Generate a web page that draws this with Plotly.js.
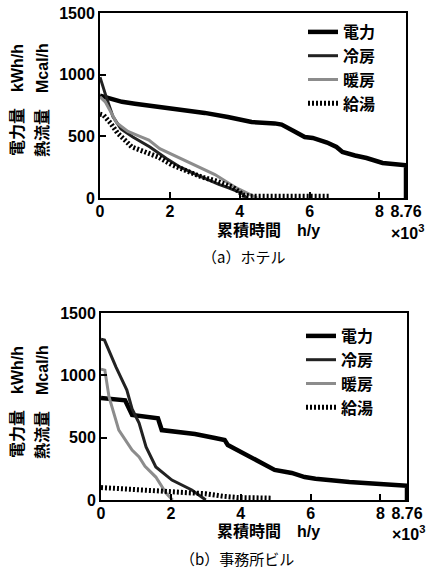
<!DOCTYPE html>
<html>
<head>
<meta charset="utf-8">
<script src="https://cdn.plot.ly/plotly-3.0.1.min.js"></script>
<style>html,body{margin:0;padding:0;background:#fff;}#chart{width:429px;height:579px;}</style>
</head>
<body>
<div id="chart"></div>
<script>
// ---- (a) ホテル : cumulative hours (×10^3 h/y) vs load ----
const seriesNames = ['電力', '冷房', '暖房', '給湯'];

const hotelPowerX = [0, 0.3, 0.63, 1.0, 1.77, 2.3, 3.0, 3.66, 4.34, 5.0, 5.2, 5.57, 5.86, 6.09, 6.5, 6.77, 6.94, 7.3, 7.63, 8.09, 8.5, 8.76, 8.76];
const hotelPowerY = [830, 810, 780, 765, 738, 715, 690, 657, 616, 605, 595, 540, 495, 487, 450, 414, 373, 345, 324, 284, 272, 265, 0];

const hotelCoolX = [0, 0.05, 0.2, 0.37, 0.6, 0.94, 1.2, 1.43, 1.9, 2.3, 2.71, 3.05, 3.4, 3.66, 4.06, 4.2];
const hotelCoolY = [980, 930, 800, 660, 560, 495, 450, 414, 320, 250, 195, 150, 110, 85, 40, 0];

const hotelHeatX = [0, 0.15, 0.48, 0.8, 1.14, 1.4, 1.71, 2.38, 2.71, 3.29, 3.86, 4.14, 4.5];
const hotelHeatY = [820, 780, 608, 540, 500, 470, 400, 310, 270, 190, 89, 49, 0];

const hotelHotX = [0, 0.1, 0.3, 0.5, 0.71, 0.91, 1.29, 1.66, 2.06, 2.51, 2.91, 3.3, 3.8, 4.1, 4.3, 6.6];
const hotelHotY = [680, 673, 608, 527, 470, 414, 373, 333, 268, 211, 170, 140, 89, 24, 15, 15];

// ---- (b) 事務所ビル ----
const officePowerX = [0, 0.69, 0.89, 1.63, 1.74, 2.69, 3.26, 3.54, 3.63, 4.03, 4.31, 4.6, 4.97, 5.46, 5.83, 6.14, 7.11, 8.06, 8.76, 8.76];
const officePowerY = [818, 800, 682, 655, 561, 530, 497, 481, 441, 385, 337, 297, 241, 217, 184, 170, 144, 132, 115, 0];

const officeCoolX = [0, 0.1, 0.43, 0.74, 0.89, 1.09, 1.29, 1.57, 2.03, 2.6, 3.0];
const officeCoolY = [1290, 1283, 1066, 882, 730, 617, 425, 265, 160, 80, 0];

const officeHeatX = [0, 0.11, 0.23, 0.51, 0.89, 1.09, 1.26, 1.57, 1.86, 2.05];
const officeHeatY = [1050, 1042, 826, 561, 401, 345, 270, 184, 56, 0];

const officeHotX = [0, 1, 2, 2.7, 3.0, 3.5, 3.9, 4.86];
const officeHotY = [100, 85, 70, 64, 50, 30, 20, 15];

// ---- axis ticks ----
const xTickVals = [0, 2, 4, 6, 8, 8.76];
const xTickText = ['0', '2', '4', '6', '8', '8.76'];
const yTickVals = [0, 500, 1000, 1500];
const yTickText = ['0', '500', '1000', '1500'];

const styles = [
  {color: '#000', width: 4.5},
  {color: '#222', width: 3},
  {color: '#8c8c8c', width: 3},
  {color: '#000', width: 5, dash: '2px,2px'}
];

function mk(x, y, i, xa, ya, lg) {
  return {x: x, y: y, type: 'scatter', mode: 'lines', name: seriesNames[i],
    line: Object.assign({}, styles[i]), xaxis: xa, yaxis: ya, legend: lg, hoverinfo: 'skip'};
}

const data = [
  mk(hotelPowerX, hotelPowerY, 0, 'x', 'y', 'legend'),
  mk(hotelCoolX, hotelCoolY, 1, 'x', 'y', 'legend'),
  mk(hotelHeatX, hotelHeatY, 2, 'x', 'y', 'legend'),
  mk(hotelHotX, hotelHotY, 3, 'x', 'y', 'legend'),
  mk(officePowerX, officePowerY, 0, 'x2', 'y2', 'legend2'),
  mk(officeCoolX, officeCoolY, 1, 'x2', 'y2', 'legend2'),
  mk(officeHeatX, officeHeatY, 2, 'x2', 'y2', 'legend2'),
  mk(officeHotX, officeHotY, 3, 'x2', 'y2', 'legend2')
];

const W = 429, H = 579;
const tickFont = {family: 'Liberation Sans, Arial, sans-serif', size: 16, color: '#000', weight: 'bold'};
const cjkFont = {family: 'Liberation Sans, Noto Sans CJK JP, sans-serif', size: 16, color: '#000', weight: 'bold'};
const legFont = {family: 'Noto Sans CJK JP, sans-serif', size: 16, color: '#000', weight: 'bold'};
const capFont = {family: 'Noto Sans CJK JP, sans-serif', size: 15, color: '#000'};

function xAxis(dom, anchor) {
  return {domain: dom, anchor: anchor, range: [0, 8.76], tickmode: 'array', tickvals: xTickVals, ticktext: xTickText,
    ticks: 'inside', ticklen: 6, tickwidth: 2, tickcolor: '#000', showline: true, mirror: true, linewidth: 2,
    linecolor: '#000', showgrid: false, zeroline: false, tickfont: tickFont, ticklabelstandoff: -2, fixedrange: true};
}
function yAxis(dom, anchor) {
  return {domain: dom, anchor: anchor, range: [0, 1500], tickmode: 'array', tickvals: yTickVals, ticktext: yTickText,
    ticks: 'inside', ticklen: 6, tickwidth: 2, tickcolor: '#000', showline: true, mirror: true, linewidth: 2,
    linecolor: '#000', showgrid: false, zeroline: false, tickfont: tickFont, fixedrange: true};
}

function px(x) { return x / W; }
function py(y) { return 1 - y / H; }

function ann(text, x, y, font, angle) {
  return {text: text, x: px(x), y: py(y), xref: 'paper', yref: 'paper', showarrow: false,
    xanchor: 'center', yanchor: 'middle', font: font, textangle: angle || 0};
}

const layout = {
  width: W, height: H,
  margin: {l: 0, r: 0, t: 0, b: 0},
  paper_bgcolor: '#fff', plot_bgcolor: '#fff',
  showlegend: true,
  xaxis: xAxis([px(100), px(406)], 'y'),
  yaxis: yAxis([py(198), py(13)], 'x'),
  xaxis2: xAxis([px(101), px(407)], 'y2'),
  yaxis2: yAxis([py(500), py(313)], 'x2'),
  legend: {x: px(303), y: py(15), xanchor: 'left', yanchor: 'top', bgcolor: 'rgba(0,0,0,0)',
    font: legFont, tracegroupgap: 0, itemwidth: 30},
  legend2: {x: px(301), y: py(319), xanchor: 'left', yanchor: 'top', bgcolor: 'rgba(0,0,0,0)',
    font: legFont, tracegroupgap: 0, itemwidth: 30},
  annotations: [
    ann('電力量　kWh/h', 17, 100, cjkFont, -90),
    ann('熱流量　Mcal/h', 42, 100, cjkFont, -90),
    ann('累積時間　h/y', 268, 230, cjkFont),
    ann('×10<sup>3</sup>', 407, 232, cjkFont),
    ann('（a）ホテル', 243, 257, capFont),
    ann('電力量　kWh/h', 17, 402, cjkFont, -90),
    ann('熱流量　Mcal/h', 42, 402, cjkFont, -90),
    ann('累積時間　h/y', 268, 531, cjkFont),
    ann('×10<sup>3</sup>', 408, 533, cjkFont),
    ann('（b）事務所ビル', 237, 558, capFont)
  ]
};

Plotly.newPlot('chart', data, layout, {displayModeBar: false, staticPlot: true});
</script>
</body>
</html>
